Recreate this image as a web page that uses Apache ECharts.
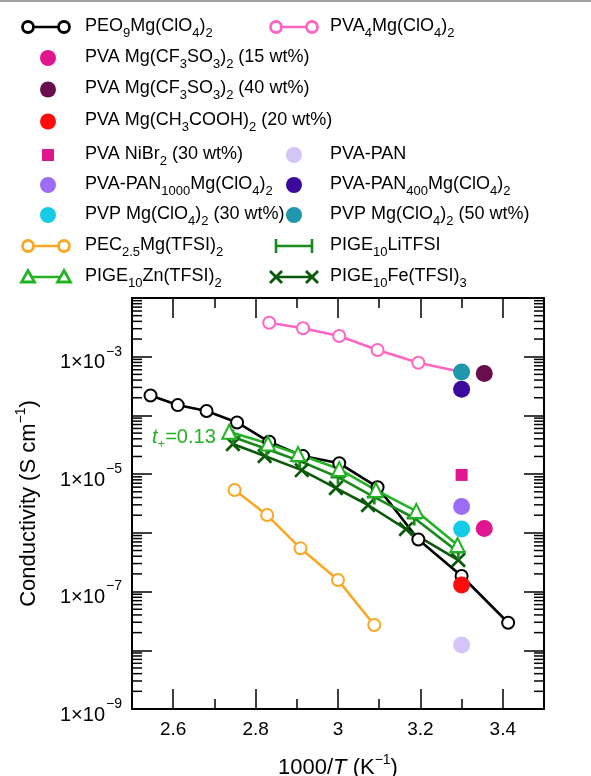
<!DOCTYPE html>
<html><head><meta charset="utf-8">
<script src="https://cdn.jsdelivr.net/npm/echarts@6/dist/echarts.min.js"></script>
<style>html,body{margin:0;padding:0;background:#fff}#c{width:591px;height:776px}</style>
</head><body><div id="c"></div>
<script>
const FONT = '"Liberation Sans", Arial, Helvetica, sans-serif';
const X_MIN = 2.5, X_MAX = 3.5, Y_MIN = 1e-9, Y_MAX = 1e-2;

// PEO9Mg(ClO4)2
const peoX = [2.545, 2.611, 2.681, 2.755, 2.833, 2.915, 3.003, 3.096, 3.195, 3.300, 3.413];
const peoY = [2.18e-4, 1.50e-4, 1.19e-4, 7.6e-5, 3.56e-5, 2.03e-5, 1.53e-5, 6.0e-6, 7.7e-7, 1.84e-7, 2.94e-8];
// PVA4Mg(ClO4)2
const pvaX = [2.833, 2.915, 3.003, 3.096, 3.195, 3.300];
const pvaY = [3.79e-3, 3.05e-3, 2.25e-3, 1.30e-3, 7.9e-4, 5.5e-4];
// PEC2.5Mg(TFSI)2
const pecX = [2.749, 2.828, 2.909, 3.000, 3.088];
const pecY = [5.36e-6, 2.01e-6, 5.45e-7, 1.57e-7, 2.69e-8];
// PIGE10Zn(TFSI)2
const znX = [2.736, 2.830, 2.903, 3.003, 3.092, 3.190, 3.290];
const znY = [5.27e-5, 3.32e-5, 2.2e-5, 1.22e-5, 5.36e-6, 2.35e-6, 6.2e-7];
// PIGE10LiTFSI
const liX = [2.745, 2.827, 2.907, 3.000, 3.088, 3.185, 3.292];
const liY = [4.28e-5, 2.68e-5, 1.67e-5, 8.9e-6, 4.07e-6, 1.79e-6, 4.7e-7];
// PIGE10Fe(TFSI)3
const feX = [2.745, 2.822, 2.912, 2.995, 3.073, 3.165, 3.292];
const feY = [3.26e-5, 2.03e-5, 1.17e-5, 5.8e-6, 2.98e-6, 1.16e-6, 3.44e-7];

// single points
const dotNames = ['PVA Mg(CF3SO3)2 (15 wt%)', 'PVA Mg(CF3SO3)2 (40 wt%)', 'PVA Mg(CH3COOH)2 (20 wt%)', 'PVA NiBr2 (30 wt%)', 'PVA-PAN', 'PVA-PAN1000Mg(ClO4)2', 'PVA-PAN400Mg(ClO4)2', 'PVP Mg(ClO4)2 (30 wt%)', 'PVP Mg(ClO4)2 (50 wt%)'];
const dotX = [3.355, 3.355, 3.300, 3.300, 3.300, 3.300, 3.300, 3.300, 3.300];
const dotY = [1.19e-6, 5.2e-4, 1.29e-7, 9.7e-6, 1.23e-8, 2.8e-6, 2.8e-4, 1.16e-6, 5.5e-4];
const dotColors = ['#e0168f', '#6a0d4c', '#ff0d0d', '#e0168f', '#d4c4f7', '#9d6cf5', '#3d0a9e', '#15cbe6', '#1f97ad'];
const dotShapes = ['circle', 'circle', 'circle', 'rect', 'circle', 'circle', 'circle', 'circle', 'circle'];

const C_BLACK = '#000000', C_PINK = '#ff66c4', C_ORANGE = '#f9a825', C_ZN = '#22b322', C_LI = '#1a8a1a', C_FE = '#0b5a0b';

const PLUS = 'path://M-1.3,-7H1.3V-1.3H7V1.3H1.3V7H-1.3V1.3H-7V-1.3H-1.3Z';
const CROSS = 'path://M-1,-7H1V-1H7V1H1V7H-1V1H-7V-1H-1Z';

const yMinorTicks = [];
for (let e = -9; e < -2; e++) for (let m = 2; m <= 9; m++) yMinorTicks.push(m * Math.pow(10, e));

const zip = (xs, ys) => xs.map((x, i) => [x, ys[i]]);

function lineSeries(name, xs, ys, color, symbol, size, extra) {
  return Object.assign({
    name, type: 'line', data: zip(xs, ys), symbol, symbolSize: size,
    lineStyle: { color, width: 2.6 },
    itemStyle: { color, borderColor: color, borderWidth: 2.8 },
    z: 3, animation: false
  }, extra || {});
}

const series = [
  { type: 'custom', data: yMinorTicks.map(v => [X_MIN, v]), clip: false, silent: true, z: 1, animation: false,
    renderItem: (p, api) => {
      const v = api.value(1);
      const l = api.coord([X_MIN, v]), r = api.coord([X_MAX, v]);
      return { type: 'group', children: [
        { type: 'line', shape: { x1: l[0], y1: l[1], x2: l[0] + 10, y2: l[1] }, style: { stroke: '#000', lineWidth: 1.5 } },
        { type: 'line', shape: { x1: r[0], y1: r[1], x2: r[0] - 10, y2: r[1] }, style: { stroke: '#000', lineWidth: 1.5 } }
      ]};
    }
  },
  lineSeries('PEO9Mg(ClO4)2', peoX, peoY, C_BLACK, 'emptyCircle', 12),
  lineSeries('PVA4Mg(ClO4)2', pvaX, pvaY, C_PINK, 'emptyCircle', 12),
  lineSeries('PEC2.5Mg(TFSI)2', pecX, pecY, C_ORANGE, 'emptyCircle', 12),
  lineSeries('PIGE10Fe(TFSI)3', feX, feY, C_FE, CROSS, 19, { symbolRotate: 45, itemStyle: { color: C_FE, borderWidth: 0 } }),
  lineSeries('PIGE10LiTFSI', liX, liY, C_LI, PLUS, 15, { itemStyle: { color: C_LI, borderWidth: 0 } }),
  lineSeries('PIGE10Zn(TFSI)2', znX, znY, C_ZN, 'emptyTriangle', 14)
];
dotNames.forEach((n, i) => {
  series.push({ name: n, type: 'scatter', data: [[dotX[i], dotY[i]]], symbol: dotShapes[i],
    symbolSize: dotShapes[i] === 'rect' ? 12 : 17, itemStyle: { color: dotColors[i], opacity: 1 }, z: 5, animation: false });
});

// legend
const LEG_TEXT = [
  'PEO{s|9}Mg(ClO{s|4}){s|2}', 'PVA{s|4}Mg(ClO{s|4}){s|2}',
  'PVA Mg(CF{s|3}SO{s|3}){s|2} (15 wt%)', 'PVA Mg(CF{s|3}SO{s|3}){s|2} (40 wt%)',
  'PVA Mg(CH{s|3}COOH){s|2} (20 wt%)', 'PVA NiBr{s|2} (30 wt%)', 'PVA-PAN',
  'PVA-PAN{s|1000}Mg(ClO{s|4}){s|2}', 'PVA-PAN{s|400}Mg(ClO{s|4}){s|2}',
  'PVP Mg(ClO{s|4}){s|2} (30 wt%)', 'PVP Mg(ClO{s|4}){s|2} (50 wt%)',
  'PEC{s|2.5}Mg(TFSI){s|2}', 'PIGE{s|10}LiTFSI', 'PIGE{s|10}Zn(TFSI){s|2}', 'PIGE{s|10}Fe(TFSI){s|3}'
];
// [textIndex, col, row, iconType, color]
const LEG_ITEMS = [
  [0, 0, 0, 'lineCircle', C_BLACK], [1, 1, 0, 'lineCircle', C_PINK],
  [2, 0, 1, 'dot', dotColors[0]], [3, 0, 2, 'dot', dotColors[1]], [4, 0, 3, 'dot', dotColors[2]],
  [5, 0, 4, 'square', dotColors[3]], [6, 1, 4, 'dot', dotColors[4]],
  [7, 0, 5, 'dot', dotColors[5]], [8, 1, 5, 'dot', dotColors[6]],
  [9, 0, 6, 'dot', dotColors[7]], [10, 1, 6, 'dot', dotColors[8]],
  [11, 0, 7, 'lineCircle', C_ORANGE], [12, 1, 7, 'linePlus', C_LI],
  [13, 0, 8, 'lineTri', C_ZN], [14, 1, 8, 'lineCross', C_FE]
];
const ROW_Y = [27, 58, 89.5, 121.5, 155, 185, 215, 246, 277];
const COL_ICON = [[28, 64], [276, 312]];
const COL_TEXT = [85, 330];
const graphics = [{ type: 'rect', shape: { x: 0, y: 0, width: 591, height: 2 }, style: { fill: '#a0a0a0' } }];
const richLeg = {
  s: { fontSize: 13, fontFamily: FONT, fill: '#000', padding: [14, 0, 0, 0] }
};
LEG_ITEMS.forEach(([ti, col, row, kind, color]) => {
  const y = ROW_Y[row], [a, b] = COL_ICON[col];
  const st = { stroke: color, lineWidth: 2.8, fill: '#fff' };
  if (kind.startsWith('line')) graphics.push({ type: 'line', shape: { x1: a, y1: y, x2: b, y2: y }, style: { stroke: color, lineWidth: 2.6 } });
  [a, b].forEach(cx => {
    if (kind === 'lineCircle') graphics.push({ type: 'circle', shape: { cx, cy: y, r: 5.5 }, style: st });
    if (kind === 'lineTri') graphics.push({ type: 'polygon', shape: { points: [[cx, y - 6.5], [cx + 6.5, y + 5], [cx - 6.5, y + 5]] }, style: st });
    if (kind === 'linePlus') graphics.push({ type: 'line', shape: { x1: cx, y1: y - 7, x2: cx, y2: y + 7 }, style: { stroke: color, lineWidth: 2.6 } });
    if (kind === 'lineCross') {
      graphics.push({ type: 'line', shape: { x1: cx - 6, y1: y - 6, x2: cx + 6, y2: y + 6 }, style: { stroke: color, lineWidth: 2.8 } });
      graphics.push({ type: 'line', shape: { x1: cx - 6, y1: y + 6, x2: cx + 6, y2: y - 6 }, style: { stroke: color, lineWidth: 2.8 } });
    }
  });
  if (kind === 'dot') graphics.push({ type: 'circle', shape: { cx: col === 0 ? 48 : 294, cy: y, r: 8 }, style: { fill: color } });
  if (kind === 'square') graphics.push({ type: 'rect', shape: { x: 42, y: y - 6, width: 12, height: 12 }, style: { fill: color } });
  graphics.push({ type: 'text', x: COL_TEXT[col], y: y - 1, style: { text: LEG_TEXT[ti], rich: richLeg,
    fontSize: 18, fontFamily: FONT, fill: '#000', verticalAlign: 'middle', align: 'left' } });
});
// t+ annotation
graphics.push({ type: 'text', x: 152, y: 437, style: { text: '{i|t}{s|+}=0.13', fill: C_ZN, fontSize: 20, fontFamily: FONT,
  verticalAlign: 'middle', rich: { i: { fontStyle: 'italic', fontSize: 20, fontFamily: FONT, fill: C_ZN }, s: { fontSize: 13, padding: [14, 0, 0, 0], fill: C_ZN, fontFamily: FONT } } } });

const axisLine = { show: true, lineStyle: { color: '#000', width: 2 } };
const noLabel = { show: false };
const tickStyle = { color: '#000', width: 1.5 };

const option = {
  backgroundColor: '#fff',
  animation: false,
  textStyle: { fontFamily: FONT },
  grid: { left: 132, top: 298, width: 412, height: 411, containLabel: false, outerBoundsMode: 'none' },
  xAxis: [
    { type: 'value', min: X_MIN, max: X_MAX, splitNumber: 5, position: 'bottom', axisLine,
      axisTick: { inside: true, length: 20, lineStyle: tickStyle }, splitLine: { show: false },
      axisLabel: { showMinLabel: false, showMaxLabel: false, fontSize: 19, color: '#000', margin: 11, fontFamily: FONT },
      name: '1000/{i|T} (K{sup|−1})', nameLocation: 'middle', nameGap: 44,
      nameTextStyle: { fontSize: 22, color: '#000', fontFamily: FONT,
        rich: { i: { fontStyle: 'italic', fontSize: 22, fontFamily: FONT, color: '#000' }, sup: { fontSize: 14, padding: [0, 0, 16, 0], fontFamily: FONT, color: '#000' } } } },
    { type: 'value', min: X_MIN, max: X_MAX, interval: 0.2, position: 'bottom', axisLine: { show: false },
      axisTick: { inside: true, length: 10, lineStyle: tickStyle }, axisLabel: noLabel, splitLine: { show: false } },
    { type: 'value', min: X_MIN, max: X_MAX, splitNumber: 5, position: 'top', axisLine,
      axisTick: { inside: true, length: 20, lineStyle: tickStyle }, axisLabel: noLabel, splitLine: { show: false } },
    { type: 'value', min: X_MIN, max: X_MAX, interval: 0.2, position: 'top', axisLine: { show: false },
      axisTick: { inside: true, length: 10, lineStyle: tickStyle }, axisLabel: noLabel, splitLine: { show: false } }
  ],
  yAxis: [
    { type: 'log', logBase: 10, min: Y_MIN, max: Y_MAX, position: 'left', axisLine,
      axisTick: { inside: true, length: 20, lineStyle: tickStyle }, splitLine: { show: false },
      axisLabel: { color: '#000', margin: 10,
        formatter: v => { const e = Math.round(Math.log10(v)); return (e % 2 !== 0) ? '{b|1×10}{s|−' + (-e) + '}' : ''; },
        rich: { b: { fontSize: 20, fontFamily: FONT, color: '#000', padding: [12, 0, 0, 0] }, s: { fontSize: 14, padding: [0, 0, 10, 1], fontFamily: FONT, color: '#000' } } },
      name: 'Conductivity (S cm{sup|−1})', nameLocation: 'middle', nameRotate: 90, nameGap: 88,
      nameTextStyle: { fontSize: 22, color: '#000', fontFamily: FONT,
        rich: { sup: { fontSize: 14, padding: [0, 0, 16, 0], fontFamily: FONT, color: '#000' } } } },
    { type: 'log', logBase: 10, min: Y_MIN, max: Y_MAX, position: 'right', axisLine,
      axisTick: { inside: true, length: 20, lineStyle: tickStyle }, axisLabel: noLabel, splitLine: { show: false } }
  ],
  graphic: graphics,
  series
};
const chart = echarts.init(document.getElementById('c'), null, { renderer: 'canvas' });
chart.setOption(option);
</script></body></html>
